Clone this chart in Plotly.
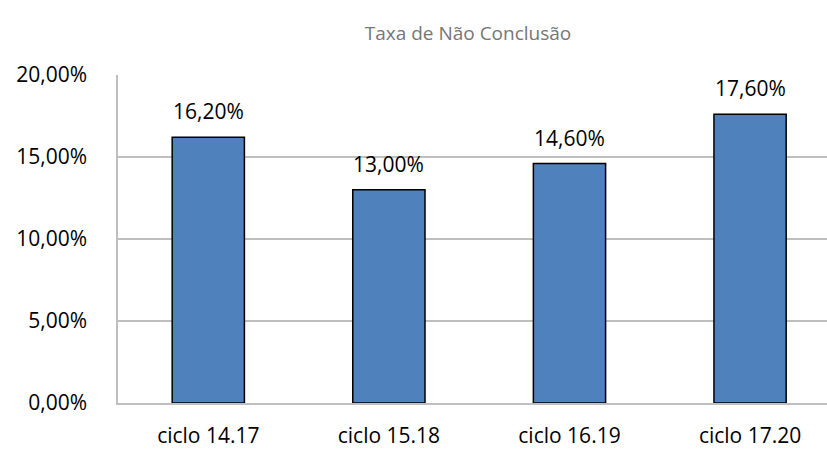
import plotly.graph_objects as go

categories = ["ciclo 14.17", "ciclo 15.18", "ciclo 16.19", "ciclo 17.20"]
values = [0.162, 0.130, 0.146, 0.176]
y_ticks = [0, 0.05, 0.10, 0.15, 0.20]

font_family = "'Open Sans', sans-serif"

fig = go.Figure()
fig.add_trace(go.Bar(
    x=list(range(len(categories))),
    y=values,
    width=0.40,
    marker=dict(color="#4F81BD", line=dict(color="#000000", width=1.5)),
    hoverinfo="skip",
))

for i, v in enumerate(values):
    fig.add_annotation(
        x=i, y=v, text=f"{v*100:.2f}%".replace(".", ","),
        showarrow=False, yanchor="bottom", yshift=10,
        font=dict(size=21, color="#000000", family=font_family),
    )

fig.update_layout(
    width=827, height=449,
    margin=dict(l=118, r=0, t=75, b=46),
    paper_bgcolor="white", plot_bgcolor="white",
    separators=",.",
    showlegend=False,
    title=dict(text="Taxa de Não Conclusão", x=468/827, xanchor="center",
               y=1 - 33/449, yanchor="middle",
               font=dict(size=19, color="#767676", family=font_family)),
    font=dict(family=font_family, size=21, color="#000000"),
)

fig.update_xaxes(
    range=[-0.5, 3.426],
    tickvals=list(range(len(categories))), ticktext=categories,
    showgrid=False, zeroline=False,
    showline=True, linecolor="#BFBFBF", linewidth=1.5,
    ticks="", ticklabelstandoff=13,
    tickfont=dict(size=21, color="#000000"),
)
fig.update_yaxes(
    range=[0, 0.20],
    tickvals=y_ticks, tickformat=".2%",
    showgrid=True, gridcolor="#BFBFBF", gridwidth=1.5,
    zeroline=False,
    showline=True, linecolor="#BFBFBF", linewidth=1.5,
    ticks="", ticklabelstandoff=25,
    tickfont=dict(size=21, color="#000000"),
)

fig.write_html(
    "out.html",
    config={"displayModeBar": False},
    post_script="document.body.style.margin='0';document.body.style.overflow='hidden';",
)
